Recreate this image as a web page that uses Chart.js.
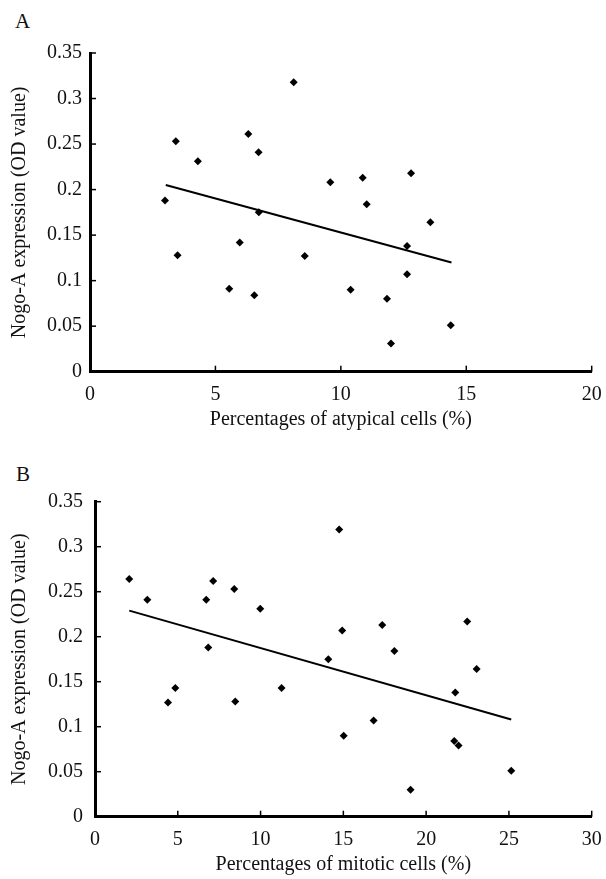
<!DOCTYPE html>
<html>
<head>
<meta charset="utf-8">
<script src="https://cdn.jsdelivr.net/npm/chart.js@4.4.1/dist/chart.umd.min.js"></script>
<style>
  body { margin: 0; background: #fff; width: 606px; height: 879px; position: relative; overflow: hidden; }
  .panel { position: absolute; left: 0; width: 606px; }
  .tag { position: absolute; font: 21px 'Liberation Serif', 'Times New Roman', serif; line-height: 1; color: #111; }
</style>
</head>
<body>
<div class="tag" style="left:15px; top:11px;">A</div>
<div class="tag" style="left:16px; top:464px;">B</div>
<div class="panel" style="top:0; height:440px;"><canvas id="chartA" width="606" height="440"></canvas></div>
<div class="panel" style="top:440px; height:439px;"><canvas id="chartB" width="606" height="439"></canvas></div>
<script>
// Panel A: atypical cells vs Nogo-A
const atypicalPct = [2.99, 3.42, 3.49, 4.30, 5.55, 5.97, 6.31, 6.55, 6.72, 6.73, 8.12, 8.56, 9.58, 10.39, 10.87, 11.03, 11.84, 12.00, 12.64, 12.64, 12.80, 13.57, 14.38];
const nogoA = [0.188, 0.253, 0.128, 0.231, 0.091, 0.142, 0.261, 0.084, 0.241, 0.175, 0.318, 0.127, 0.208, 0.090, 0.213, 0.184, 0.080, 0.031, 0.138, 0.107, 0.218, 0.164, 0.051];
const trendAX = [3.02, 14.41];
const trendAY = [0.205, 0.120];

// Panel B: mitotic cells vs Nogo-A
const mitoticPct = [2.07, 3.16, 4.41, 4.85, 6.72, 6.84, 7.14, 8.41, 8.47, 9.98, 11.27, 14.09, 14.75, 14.93, 15.02, 16.83, 17.35, 18.08, 19.06, 21.70, 21.76, 21.96, 22.48, 23.05, 25.14];
const nogoB = [0.264, 0.241, 0.127, 0.143, 0.241, 0.188, 0.262, 0.253, 0.128, 0.231, 0.143, 0.175, 0.319, 0.207, 0.090, 0.107, 0.213, 0.184, 0.030, 0.084, 0.138, 0.079, 0.217, 0.164, 0.051];
const trendBX = [2.07, 25.14];
const trendBY = [0.229, 0.108];

// ticks
const yTicks = [0, 0.05, 0.1, 0.15, 0.2, 0.25, 0.3, 0.35];
const xTicksA = [0, 5, 10, 15, 20];
const xTicksB = [0, 5, 10, 15, 20, 25, 30];

const yTitle = 'Nogo-A expression (OD value)';
const xTitleA = 'Percentages of atypical cells (%)';
const xTitleB = 'Percentages of mitotic cells (%)';

const FONT = "'Liberation Serif', 'Times New Roman', serif";
const INK = '#111';

// small tick marks pointing into the plot
const inwardTicks = {
    id: 'inwardTicks',
    afterDraw(chart) {
        const { ctx, chartArea, scales } = chart;
        ctx.save();
        ctx.strokeStyle = '#000';
        ctx.lineWidth = 1.5;
        scales.x.ticks.forEach(t => {
            if (t.value === scales.x.min) return;
            const px = scales.x.getPixelForValue(t.value);
            ctx.beginPath();
            ctx.moveTo(px, chartArea.bottom);
            ctx.lineTo(px, chartArea.bottom - 6);
            ctx.stroke();
        });
        scales.y.ticks.forEach(t => {
            if (t.value === scales.y.min) return;
            const py = scales.y.getPixelForValue(t.value);
            ctx.beginPath();
            ctx.moveTo(chartArea.left, py);
            ctx.lineTo(chartArea.left + 6, py);
            ctx.stroke();
        });
        ctx.restore();
    }
};

function pairs(xs, ys) {
    return xs.map((x, i) => ({ x: x, y: ys[i] }));
}

function makeChart(id, xs, ys, tx, ty, xTicks, xTitle, lay) {
    const ctx = document.getElementById(id).getContext('2d');
    return new Chart(ctx, {
        type: 'scatter',
        data: {
            datasets: [{
                data: pairs(xs, ys),
                pointStyle: 'rectRot',
                radius: 4,
                backgroundColor: '#000',
                borderColor: '#000',
                borderWidth: 0
            }, {
                type: 'line',
                data: pairs(tx, ty),
                borderColor: '#000',
                borderWidth: 2,
                pointRadius: 0,
                fill: false
            }]
        },
        options: {
            responsive: false,
            animation: false,
            layout: { padding: { top: lay.top, left: 0, right: lay.right, bottom: 0 } },
            plugins: { legend: { display: false }, tooltip: { enabled: false } },
            scales: {
                x: {
                    type: 'linear',
                    min: xTicks[0],
                    max: xTicks[xTicks.length - 1],
                    afterBuildTicks: s => { s.ticks = xTicks.map(v => ({ value: v })); },
                    afterFit: s => { s.height = lay.xHeight; s.paddingLeft = 0; s.paddingRight = 0; },
                    grid: { display: false, drawTicks: false },
                    border: { display: true, color: '#000', width: 3 },
                    ticks: {
                        padding: 11,
                        maxRotation: 0,
                        color: INK,
                        font: { family: FONT, size: 20 },
                        callback: v => String(v)
                    },
                    title: {
                        display: true,
                        text: xTitle,
                        color: INK,
                        font: { family: FONT, size: 20 },
                        padding: { top: 0, bottom: lay.xTitlePad }
                    }
                },
                y: {
                    min: 0,
                    max: 0.35,
                    afterBuildTicks: s => { s.ticks = yTicks.map(v => ({ value: v })); },
                    afterFit: s => { s.width = lay.yWidth; s.paddingTop = 0; s.paddingBottom = 0; },
                    grid: { display: false, drawTicks: false },
                    border: { display: true, color: '#000', width: 3 },
                    ticks: {
                        padding: lay.yTickPad,
                        color: INK,
                        font: { family: FONT, size: 20 },
                        callback: v => String(+v.toFixed(2))
                    },
                    title: {
                        display: true,
                        text: yTitle,
                        color: INK,
                        font: { family: FONT, size: 20 },
                        padding: { top: 8, bottom: 0 }
                    }
                }
            }
        },
        plugins: [inwardTicks]
    });
}

makeChart('chartA', atypicalPct, nogoA, trendAX, trendAY, xTicksA, xTitleA,
    { top: 53, right: 14.3, xHeight: 68.3, yWidth: 90, yTickPad: 8, xTitlePad: 8 });
makeChart('chartB', mitoticPct, nogoB, trendBX, trendBY, xTicksB, xTitleB,
    { top: 61.7, right: 14.3, xHeight: 62.3, yWidth: 95, yTickPad: 12, xTitlePad: 2 });
</script>
</body>
</html>
